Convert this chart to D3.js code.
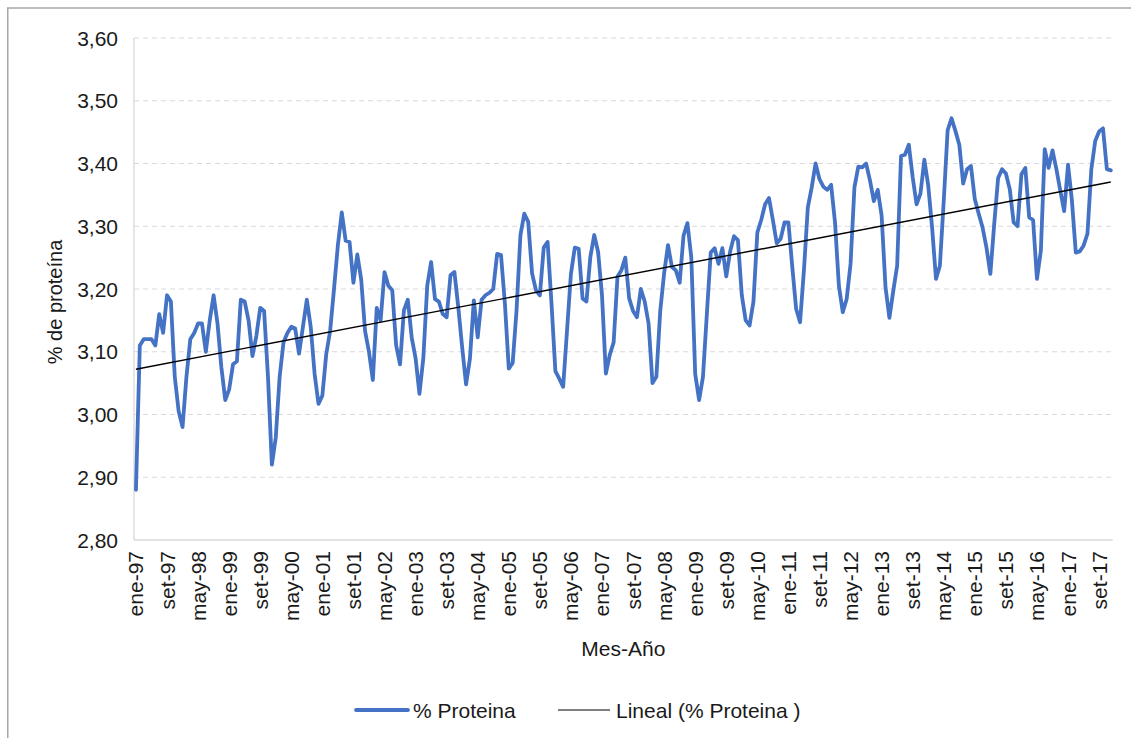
<!DOCTYPE html>
<html><head><meta charset="utf-8">
<script src="https://cdn.jsdelivr.net/npm/d3@7"></script>
<style>
body{margin:0;background:#fff;}
svg{display:block;font-family:"Liberation Sans",Arial,sans-serif;}
</style>
</head><body>
<svg id="chart" width="1131" height="738"></svg>
<script>
const meses = ["ene","feb","mar","abr","may","jun","jul","ago","set","oct","nov","dic"];
const anios = ["97","98","99","00","01","02","03","04","05","06","07","08","09","10","11","12","13","14","15","16","17"];
const categorias = anios.flatMap(a => meses.map(m => m + "-" + a));

const proteina = [
2.88,3.11,3.12,3.12,3.12,3.11,3.16,3.13,3.19,3.18,
3.06,3.005,2.98,3.06,3.12,3.13,3.145,3.145,3.10,3.15,
3.19,3.145,3.075,3.023,3.04,3.08,3.085,3.183,3.18,3.15,
3.093,3.125,3.17,3.165,3.06,2.92,2.963,3.06,3.115,3.13,
3.14,3.137,3.097,3.14,3.183,3.14,3.065,3.017,3.03,3.096,
3.133,3.20,3.27,3.322,3.277,3.275,3.21,3.255,3.215,3.133,
3.10,3.055,3.17,3.15,3.227,3.205,3.198,3.11,3.08,3.166,
3.183,3.123,3.09,3.033,3.09,3.205,3.243,3.184,3.18,3.16,
3.155,3.222,3.227,3.171,3.107,3.048,3.089,3.182,3.123,3.183,
3.19,3.194,3.20,3.256,3.254,3.177,3.073,3.082,3.166,3.286,
3.32,3.307,3.225,3.198,3.19,3.266,3.275,3.177,3.069,3.057,
3.044,3.134,3.224,3.266,3.264,3.185,3.18,3.251,3.286,3.259,
3.19,3.065,3.095,3.115,3.22,3.23,3.25,3.185,3.165,3.155,
3.20,3.18,3.145,3.05,3.06,3.165,3.225,3.27,3.235,3.23,
3.21,3.285,3.305,3.25,3.065,3.023,3.06,3.16,3.258,3.265,
3.24,3.265,3.22,3.26,3.284,3.278,3.19,3.15,3.142,3.18,
3.29,3.31,3.335,3.345,3.31,3.273,3.28,3.306,3.306,3.235,
3.168,3.147,3.23,3.33,3.362,3.40,3.375,3.363,3.358,3.366,
3.306,3.205,3.163,3.184,3.24,3.362,3.395,3.394,3.40,3.373,
3.34,3.358,3.317,3.203,3.154,3.197,3.237,3.412,3.414,3.43,
3.378,3.335,3.352,3.406,3.365,3.298,3.216,3.237,3.341,3.453,
3.472,3.452,3.43,3.368,3.391,3.396,3.343,3.32,3.298,3.266,
3.224,3.304,3.377,3.391,3.384,3.359,3.306,3.30,3.383,3.393,
3.314,3.31,3.216,3.261,3.423,3.393,3.421,3.391,3.357,3.324,
3.398,3.341,3.258,3.26,3.269,3.288,3.391,3.436,3.451,3.456,
3.391,3.389
];

const yTicks = [2.80,2.90,3.00,3.10,3.20,3.30,3.40,3.50,3.60];
const xTickLabels = ["ene-97","set-97","may-98","ene-99","set-99","may-00","ene-01","set-01","may-02","ene-03","set-03","may-04","ene-05","set-05","may-06","ene-07","set-07","may-08","ene-09","set-09","may-10","ene-11","set-11","may-12","ene-13","set-13","may-14","ene-15","set-15","may-16","ene-17","set-17"];
const serieNombre = "% Proteina";
const tendenciaNombre = "Lineal (% Proteina )";
const ejeY = "% de proteína";
const ejeX = "Mes-Año";

const svg = d3.select("#chart");
const L = 134, R = 1112.7, T = 38, B = 540;

const x = d3.scaleBand().domain(categorias.slice(0, proteina.length)).range([L, R]).padding(0);
const cx = c => x(c) + x.bandwidth() / 2;
const y = d3.scaleLinear().domain([2.8, 3.6]).range([B, T]);
const fmt = v => d3.format(".2f")(v).replace(".", ",");

// outer frame (cropped at right/bottom)
svg.append("rect").attr("x", 7.75).attr("y", 8).attr("width", 1200).attr("height", 800)
  .attr("fill", "none").attr("stroke", "#a6a6a6").attr("stroke-width", 1.5);

// gridlines
svg.append("g").selectAll("line").data(yTicks.filter(v => v > 2.8)).join("line")
  .attr("x1", L).attr("x2", R).attr("y1", d => y(d)).attr("y2", d => y(d))
  .attr("stroke", "#d9d9d9").attr("stroke-width", 1).attr("stroke-dasharray", "5,4");

// axes lines
svg.append("line").attr("x1", L).attr("x2", R).attr("y1", y(2.8)).attr("y2", y(2.8))
  .attr("stroke", "#d9d9d9").attr("stroke-width", 1.3);
svg.append("line").attr("x1", L).attr("x2", L).attr("y1", y(3.6)).attr("y2", y(2.8))
  .attr("stroke", "#d9d9d9").attr("stroke-width", 1.3);

// y tick labels
svg.append("g").selectAll("text").data(yTicks).join("text")
  .attr("x", 118).attr("y", d => y(d)).attr("text-anchor", "end")
  .attr("dominant-baseline", "central").attr("font-size", 21).attr("fill", "#1a1a1a")
  .text(d => fmt(d));

// x tick labels
svg.append("g").selectAll("text").data(xTickLabels).join("text")
  .attr("transform", d => `translate(${cx(d)},551) rotate(-90)`)
  .attr("text-anchor", "end").attr("dominant-baseline", "central")
  .attr("font-size", 21).attr("fill", "#1a1a1a").text(d => d);

// axis titles
svg.append("text").attr("transform", `translate(55,302) rotate(-90)`)
  .attr("text-anchor", "middle").attr("dominant-baseline", "central")
  .attr("font-size", 20).attr("fill", "#1a1a1a").text(ejeY);
svg.append("text").attr("x", (L + R) / 2).attr("y", 648)
  .attr("text-anchor", "middle").attr("dominant-baseline", "central")
  .attr("font-size", 21).attr("fill", "#1a1a1a").text(ejeX);

// series line
const datos = proteina.map((v, i) => ({c: categorias[i], i, v}));
svg.append("path").datum(datos)
  .attr("d", d3.line().x(d => cx(d.c)).y(d => y(d.v)))
  .attr("fill", "none").attr("stroke", "#4472c4").attr("stroke-width", 3.8)
  .attr("stroke-linejoin", "round").attr("stroke-linecap", "round");

// linear trend (least squares)
const n = proteina.length;
const mx = d3.mean(datos, d => d.i), my = d3.mean(datos, d => d.v);
const slope = d3.sum(datos, d => (d.i - mx) * (d.v - my)) / d3.sum(datos, d => (d.i - mx) ** 2);
const icpt = my - slope * mx;
const trend = [datos[0], datos[n - 1]].map(d => ({c: d.c, v: icpt + slope * d.i}));
svg.append("path").datum(trend)
  .attr("d", d3.line().x(d => cx(d.c)).y(d => y(d.v)))
  .attr("fill", "none").attr("stroke", "#000").attr("stroke-width", 1.4);

// legend
const ly = 710;
svg.append("line").attr("x1", 356).attr("x2", 408).attr("y1", ly).attr("y2", ly)
  .attr("stroke", "#4472c4").attr("stroke-width", 3.8).attr("stroke-linecap", "round");
svg.append("text").attr("x", 413).attr("y", ly).attr("dominant-baseline", "central")
  .attr("font-size", 21).attr("fill", "#1a1a1a").text(serieNombre);
svg.append("line").attr("x1", 558).attr("x2", 610).attr("y1", ly).attr("y2", ly)
  .attr("stroke", "#000").attr("stroke-width", 1.2);
svg.append("text").attr("x", 616).attr("y", ly).attr("dominant-baseline", "central")
  .attr("font-size", 21).attr("fill", "#1a1a1a").text(tendenciaNombre);
</script>
</body></html>
